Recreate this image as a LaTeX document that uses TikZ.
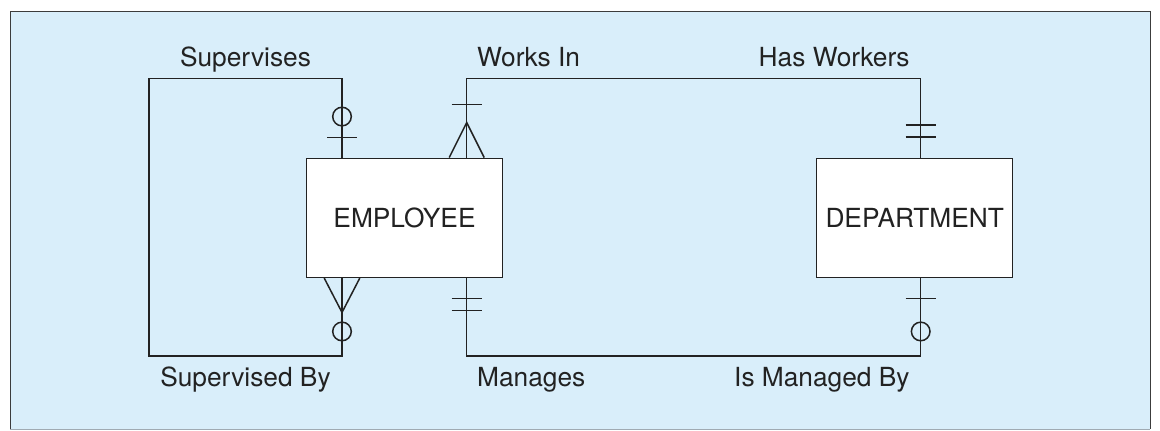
\documentclass[tikz,border=0pt]{standalone}
\usepackage{fontspec}
\setmainfont{TeX Gyre Heros}
\usetikzlibrary{positioning,calc}
\definecolor{erblue}{RGB}{217,238,250}
\definecolor{erline}{RGB}{34,34,34}
\definecolor{erframe}{RGB}{60,60,60}
\definecolor{erbottom}{RGB}{160,170,178}
\begin{document}
\begin{tikzpicture}[x=1pt,y=1pt,
		entity/.style={draw=erline,line width=.75pt,fill=white,minimum width=98pt,minimum height=59.5pt,inner sep=0pt,font=\fontsize{13.15}{15}\selectfont,text=erline},
		rel/.style={draw=erline,line width=.75pt},
		lbl/.style={inner sep=0pt,font=\fontsize{13.15}{15}\selectfont,text=erline}]
				\def\tick{7.5pt}
				\def\rad{4.65pt}
				\useasboundingbox (0,0) rectangle (580,215);
				\fill[erblue] (5,.5) rectangle (575,209.5);
				\draw[erframe,line width=.5pt] (5,.5) -- (5,209.5) -- (575,209.5) -- (575,.5);
				\draw[erbottom,line width=.5pt] (5,.5) -- (575,.5);
				
				\node[entity] (emp) at (202.25,106.1) {EMPLOYEE};
				\node[entity] (dept) at (457.35,106.1) {DEPARTMENT};
				
				\coordinate[xshift=-31.25pt] (supv) at (emp.north);
				\coordinate[xshift=31.1pt] (works) at (emp.north);
				\coordinate[xshift=-31.25pt] (supby) at (emp.south);
				\coordinate[xshift=31.1pt] (mng) at (emp.south);
				\coordinate[xshift=3pt] (hasw) at (dept.north);
				\coordinate[xshift=3pt] (mngby) at (dept.south);
				\coordinate (topy) at (0,175.65);
				\coordinate (boty) at (0,37);
				\coordinate (leftx) at (74.5,0);
				
				\draw[rel] (supv) -- (supv |- topy) -- (leftx |- topy) -- (leftx |- boty) -- (supby |- boty) -- (supby);
				\draw[rel] (works) -- (works |- topy) -- (hasw |- topy) -- (hasw);
				\draw[rel] (mng) -- (mng |- boty) -- (mngby |- boty) -- (mngby);
				
				% crow's feet
				\draw[rel] ([xshift=-8.75pt]works) -- ([yshift=17.5pt]works) -- ([xshift=8.75pt]works);
				\draw[rel] ([xshift=-8.9pt]supby) -- ([yshift=-17.2pt]supby) -- ([xshift=8.9pt]supby);
				% bars and circles
				\foreach \c/\d in {supv/10.15,works/26.5,mng/-10.2,mng/-16.1,hasw/10.3,hasw/16.3,mngby/-10.2}
					\draw[rel] ([xshift=-\tick,yshift=\d pt]\c) -- ([xshift=\tick,yshift=\d pt]\c);
				\foreach \c/\d in {supv/20.5,supby/-26.7,mngby/-26.7}
					\draw[rel] ([yshift=\d pt]\c) circle (\rad);
				
				\node[lbl,anchor=base,yshift=6pt] (lsupv) at ($(supv |- topy)!.5!(leftx |- topy)$) {Supervises};
				\node[lbl,anchor=base west,xshift=5pt,yshift=6pt] (lworks) at (works |- topy) {Works In};
				\node[lbl,anchor=base east,xshift=-5.35pt,yshift=6pt] (lhasw) at (hasw |- topy) {Has Workers};
				\node[lbl,anchor=base,yshift=-15.2pt] (lsupby) at ($(supby |- boty)!.5!(leftx |- boty)$) {Supervised By};
				\node[lbl,anchor=base west,xshift=5pt,yshift=-15.2pt] (lmng) at (mng |- boty) {Manages};
				\node[lbl,anchor=base east,xshift=-5.35pt,yshift=-15.2pt] (lmngby) at (mngby |- boty) {Is Managed By};
			\end{tikzpicture}
\end{document}
